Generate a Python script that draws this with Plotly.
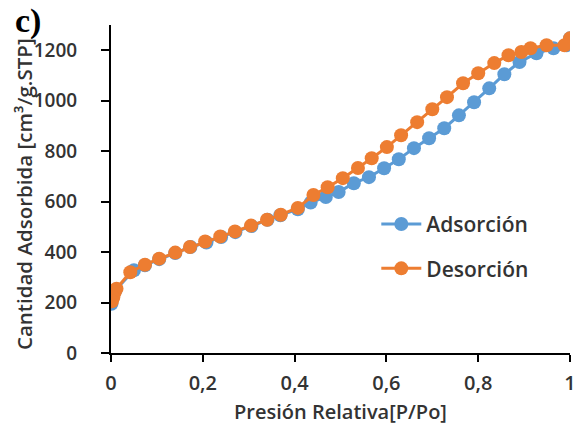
import plotly.graph_objects as go

# N2 isotherm: relative pressure P/Po and adsorbed volume (cm3/g STP)
ads_p = [0.001, 0.003, 0.006, 0.010, 0.050, 0.074, 0.105, 0.140, 0.173, 0.208, 0.240,
         0.271, 0.306, 0.341, 0.369, 0.407, 0.435, 0.468, 0.496, 0.529, 0.562, 0.595,
         0.627, 0.660, 0.693, 0.726, 0.758, 0.791, 0.824, 0.857, 0.890, 0.927, 0.964,
         0.992, 1.000]
ads_v = [195, 215, 235, 250, 328, 348, 372, 396, 420, 438, 460,
         479, 503, 528, 546, 570, 596, 618, 638, 673, 697, 732,
         768, 812, 851, 891, 942, 994, 1049, 1105, 1153, 1188, 1208,
         1220, 1247]

des_p = [1.000, 0.988, 0.949, 0.914, 0.894, 0.866, 0.835, 0.800, 0.767, 0.732, 0.700,
         0.667, 0.632, 0.601, 0.568, 0.538, 0.505, 0.472, 0.441, 0.407, 0.370, 0.340,
         0.305, 0.270, 0.238, 0.205, 0.172, 0.140, 0.105, 0.074, 0.042, 0.012, 0.008,
         0.005, 0.002]
des_v = [1247, 1220, 1220, 1208, 1193, 1180, 1149, 1109, 1069, 1014, 966,
         915, 863, 816, 772, 733, 693, 657, 626, 575, 548, 528,
         505, 482, 462, 442, 420, 398, 374, 350, 320, 255, 240,
         220, 205]

x_ticks = [0, 0.2, 0.4, 0.6, 0.8, 1.0]
x_tick_labels = ["0", "0,2", "0,4", "0,6", "0,8", "1"]
y_ticks = [0, 200, 400, 600, 800, 1000, 1200]

BLUE = "#5B9BD5"
ORANGE = "#ED7D31"
TXT = "#333333"
FONT = "Open Sans"

fig = go.Figure()
fig.add_trace(go.Scatter(
    x=ads_p, y=ads_v, name="Adsorción", mode="lines+markers",
    legendgroup="a",
    line=dict(color=BLUE, width=3),
    marker=dict(color=BLUE, size=14),
))
fig.add_trace(go.Scatter(
    x=des_p, y=des_v, name="Desorción", mode="lines+markers",
    legendgroup="d",
    line=dict(color=ORANGE, width=3),
    marker=dict(color=ORANGE, size=14),
))

fig.update_layout(
    width=577, height=427,
    margin=dict(l=111, r=7, t=25, b=74),
    plot_bgcolor="white", paper_bgcolor="white",
    font=dict(family=FONT, color=TXT),
    showlegend=True,
    legend=dict(
        x=0.578, y=0.325, xanchor="left", yanchor="middle",
        font=dict(family=FONT, size=21, color=TXT, weight=600),
        bgcolor="rgba(0,0,0,0)", tracegroupgap=14,
        traceorder="grouped", itemwidth=40,
    ),
    xaxis=dict(
        range=[0, 1], tickvals=x_ticks, ticktext=x_tick_labels,
        showgrid=False, zeroline=False,
        showline=True, linecolor="black", linewidth=2,
        ticks="outside", ticklen=7, tickwidth=2, tickcolor="black",
        ticklabelstandoff=4, automargin=False,
        tickfont=dict(family=FONT, size=20, color=TXT, weight=600),
        title=dict(text="Presión Relativa[P/Po]", standoff=10,
                   font=dict(family=FONT, size=20, color=TXT, weight=600)),
    ),
    yaxis=dict(
        range=[0, 1300], tickvals=y_ticks,
        showgrid=False, zeroline=False,
        showline=True, linecolor="black", linewidth=2,
        ticks="outside", ticklen=8, tickwidth=2, tickcolor="black",
        ticklabelstandoff=20, automargin=False,
        tickfont=dict(family=FONT, size=19, color=TXT, weight=600),
    ),
)

# y-axis title placed as rotated text beside the tick labels
fig.add_annotation(
    text="Cantidad Adsorbida [cm³/g.STP]", xref="paper", yref="paper",
    x=-0.19, y=0.484, xanchor="center", yanchor="middle", showarrow=False,
    textangle=-90,
    font=dict(family=FONT, size=20.5, color=TXT, weight=600),
)

fig.add_annotation(
    text="<b>c)</b>", xref="paper", yref="paper",
    x=-0.212, y=1.074, xanchor="left", yanchor="top", showarrow=False,
    borderpad=0,
    font=dict(family="Liberation Serif", size=34, color="black"),
)

fig.write_html("out.html")
